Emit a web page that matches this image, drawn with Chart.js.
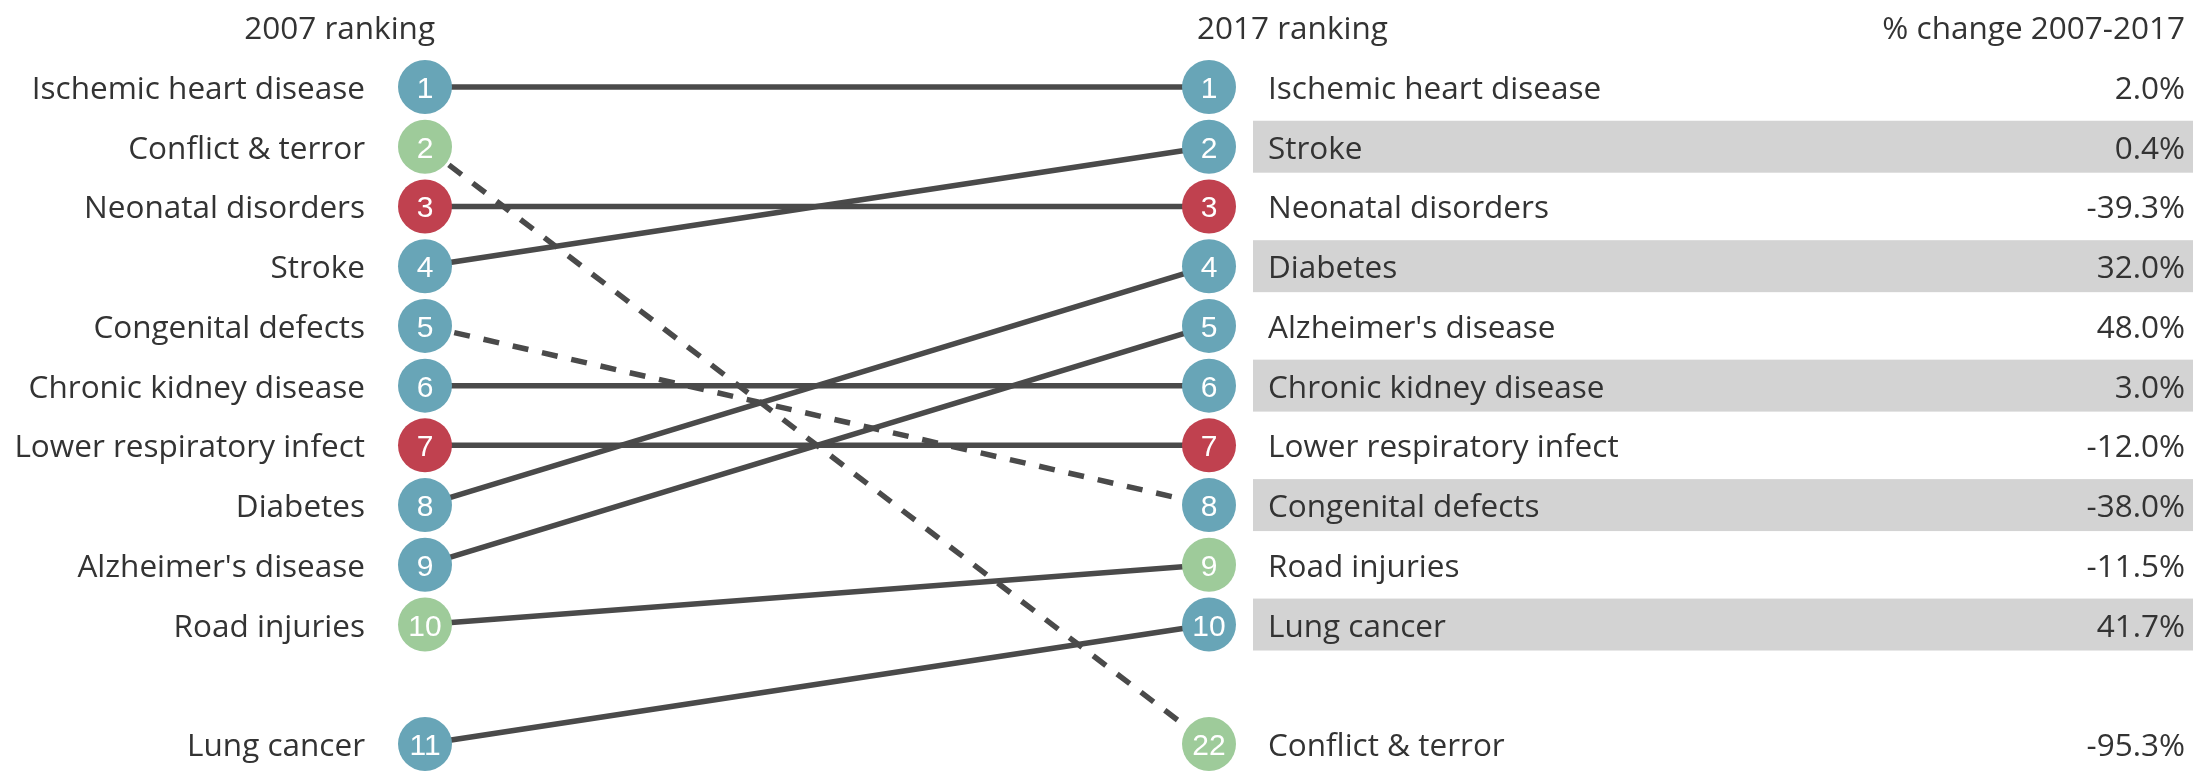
<!DOCTYPE html>
<html>
<head>
<meta charset="utf-8">
<script src="https://cdn.jsdelivr.net/npm/chart.js@4/dist/chart.umd.min.js"></script>
<style>
  body { margin: 0; background: #fff; }
  #wrap { width: 2193px; height: 771px; position: relative; }
</style>
</head>
<body>
<div id="wrap"><canvas id="slope"></canvas></div>
<script>
// --- data ---
const causes = ['Ischemic heart disease', 'Conflict & terror', 'Neonatal disorders', 'Stroke',
  'Congenital defects', 'Chronic kidney disease', 'Lower respiratory infect', 'Diabetes',
  "Alzheimer's disease", 'Road injuries', 'Lung cancer'];
const rank2007 = [1, 2, 3, 4, 5, 6, 7, 8, 9, 10, 11];
const rank2017 = [1, 22, 3, 2, 8, 6, 7, 4, 5, 9, 10];
const pctChange = [2.0, -95.3, -39.3, 0.4, -38.0, 3.0, -12.0, 32.0, 48.0, -11.5, 41.7];
const groups = ['ncd', 'inj', 'comm', 'ncd', 'ncd', 'ncd', 'comm', 'ncd', 'ncd', 'inj', 'ncd'];
const headers = ['2007 ranking', '2017 ranking', '% change 2007-2017'];

const groupColor = { ncd: '#68a5b7', comm: '#c0414f', inj: '#9ecb9a' };
const lineColor = '#4a4a4a';
const textColor = '#333333';
const textFont = '31.5px "Open Sans", sans-serif';
const numFont = '30px "Liberation Sans", Arial, sans-serif';

// ranks beyond the top 10 sit in a separate slot below a gap
function slot(r) { return r <= 10 ? r : 12; }

// one line per cause, dashed when it fell in the ranking
const lineSets = causes.map(function (c, i) {
  return {
    type: 'line',
    label: c,
    data: [{ x: 0, y: slot(rank2007[i]) }, { x: 1, y: slot(rank2017[i]) }],
    borderColor: lineColor,
    borderWidth: 5.5,
    borderDash: rank2017[i] > rank2007[i] ? [16, 14] : [],
    pointRadius: 0,
    order: 2
  };
});

// circles on both ends
const dots = [];
const dotColors = [];
const dotText = [];
causes.forEach(function (c, i) {
  dots.push({ x: 0, y: slot(rank2007[i]) });
  dotColors.push(groupColor[groups[i]]);
  dotText.push(String(rank2007[i]));
  dots.push({ x: 1, y: slot(rank2017[i]) });
  dotColors.push(groupColor[groups[i]]);
  dotText.push(String(rank2017[i]));
});

const labelPlugin = {
  id: 'labels',
  beforeDatasetsDraw(chart) {
    const ctx = chart.ctx;
    const x = chart.scales.x, y = chart.scales.y;
    const step = Math.abs(y.getPixelForValue(2) - y.getPixelForValue(1));
    const bandLeft = x.getPixelForValue(1) + 44;
    ctx.save();
    ctx.fillStyle = '#d3d3d3';
    causes.forEach(function (c, i) {
      const r = rank2017[i];
      if (r <= 10 && r % 2 === 0) {
        const py = y.getPixelForValue(slot(r));
        ctx.fillRect(bandLeft, py - step * 0.435, chart.width - bandLeft, step * 0.87);
      }
    });
    ctx.restore();
  },
  afterDatasetsDraw(chart) {
    const ctx = chart.ctx;
    const x = chart.scales.x, y = chart.scales.y;
    const xl = x.getPixelForValue(0), xr = x.getPixelForValue(1);
    const right = chart.width - 8;
    ctx.save();
    ctx.textBaseline = 'alphabetic';
    // numbers in the circles
    ctx.font = numFont;
    ctx.fillStyle = '#ffffff';
    ctx.textAlign = 'center';
    const meta = chart.getDatasetMeta(chart.data.datasets.length - 1);
    meta.data.forEach(function (pt, k) {
      ctx.fillText(dotText[k], pt.x, pt.y + 11);
    });
    // cause names and changes
    ctx.font = textFont;
    ctx.fillStyle = textColor;
    causes.forEach(function (c, i) {
      const y0 = y.getPixelForValue(slot(rank2007[i]));
      const y1 = y.getPixelForValue(slot(rank2017[i]));
      ctx.textAlign = 'right';
      ctx.fillText(c, xl - 60, y0 + 12);
      ctx.textAlign = 'left';
      ctx.fillText(c, xr + 59, y1 + 12);
      ctx.textAlign = 'right';
      ctx.fillText(pctChange[i].toFixed(1) + '%', right, y1 + 12);
    });
    // column headers
    ctx.textAlign = 'right';
    ctx.fillText(headers[0], xl + 10, 39);
    ctx.textAlign = 'left';
    ctx.fillText(headers[1], xr - 12, 39);
    ctx.textAlign = 'right';
    ctx.fillText(headers[2], right, 39);
    ctx.restore();
  }
};

new Chart(document.getElementById('slope'), {
  type: 'scatter',
  data: {
    datasets: lineSets.concat([{
      type: 'scatter',
      label: 'ranks',
      data: dots,
      pointRadius: 27,
      pointHoverRadius: 27,
      pointBackgroundColor: dotColors,
      pointBorderWidth: 0,
      order: 0
    }])
  },
  options: {
    responsive: true,
    maintainAspectRatio: false,
    animation: false,
    events: [],
    layout: { padding: { left: 425, right: 984, top: 87, bottom: 23 } },
    scales: {
      x: { type: 'linear', min: 0, max: 1, display: false },
      y: { type: 'linear', min: 1, max: 12, reverse: true, display: false }
    },
    plugins: {
      legend: { display: false },
      tooltip: { enabled: false }
    },
    elements: { line: { tension: 0 }, point: { radius: 0 } },
    clip: false
  },
  plugins: [labelPlugin]
});
</script>
</body>
</html>
